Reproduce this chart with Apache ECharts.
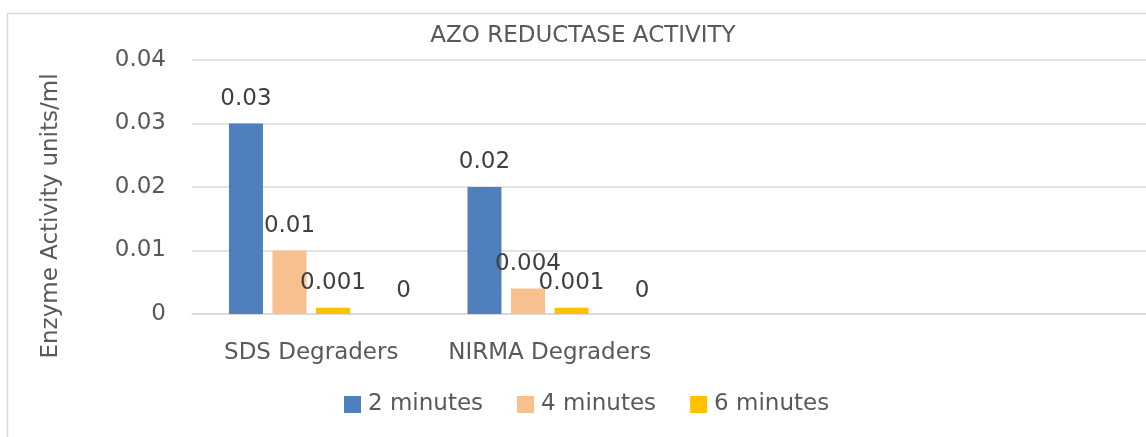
<!DOCTYPE html>
<html>
<head>
<meta charset="utf-8">
<script src="https://cdn.jsdelivr.net/npm/echarts@6/dist/echarts.min.js"></script>
<style>
html,body{margin:0;padding:0;background:#fff;}
#chart{width:1146px;height:437px;}
</style>
</head>
<body>
<div id="chart"></div>
<script>
const titleText = 'AZO REDUCTASE ACTIVITY';
const yAxisTitle = 'Enzyme Activity units/ml';
const categories = ['SDS Degraders', 'NIRMA Degraders', '', ''];
const seriesNames = ['2 minutes', '4 minutes', '6 minutes'];
const twoMinutes = [0.03, 0.02, null, null];
const fourMinutes = [0.01, 0.004, null, null];
const sixMinutes = [0.001, 0.001, null, null];
const extraSeries = [0, 0, null, null];
const yTicks = { min: 0, max: 0.04, interval: 0.01 };

const FONT = 'DejaVu Sans';
const TXT = '#595959';
const FS = 23;
const colors = ['#4F7FBC', '#F8BF8F', '#FFC000', '#A5A5A5'];

const chart = echarts.init(document.getElementById('chart'), null, { renderer: 'canvas' });

function barSeries(name, data, color, extraLabel) {
  return {
    name: name,
    type: 'bar',
    data: data,
    barWidth: 34,
    barGap: '28%',
    itemStyle: { color: color },
    label: Object.assign({
      show: true,
      position: 'top',
      distance: 13,
      fontFamily: FONT,
      fontSize: FS,
      color: '#404040',
      formatter: p => (p.value === null || p.value === undefined) ? '' : String(p.value)
    }, extraLabel || {})
  };
}

chart.setOption({
  backgroundColor: '#ffffff',
  animation: false,
  legend: {
    data: seriesNames,
    left: 344,
    top: 393,
    padding: 0,
    itemWidth: 17,
    itemHeight: 17,
    itemGap: 34,
    icon: 'rect',
    textStyle: { fontFamily: FONT, fontSize: FS, color: TXT, padding: [0, 0, 0, 2] }
  },
  grid: { left: 192, top: 60, right: -10, bottom: 123, containLabel: false },
  xAxis: {
    type: 'category',
    data: categories,
    axisTick: { show: false },
    axisLine: { lineStyle: { color: '#d9d9d9', width: 1.5 } },
    axisLabel: { fontFamily: FONT, fontSize: FS, color: TXT, margin: 28, interval: 0, hideOverlap: false }
  },
  yAxis: {
    type: 'value',
    min: yTicks.min,
    max: yTicks.max,
    interval: yTicks.interval,
    name: yAxisTitle,
    nameLocation: 'middle',
    nameGap: 129,
    nameTextStyle: { fontFamily: FONT, fontSize: FS, color: TXT, padding: [0, 58, 0, 0] },
    axisLine: { show: false },
    axisTick: { show: false },
    axisLabel: { fontFamily: FONT, fontSize: FS, color: TXT, margin: 26 },
    splitLine: { lineStyle: { color: '#d9d9d9', width: 1.5 } }
  },
  graphic: [{
    type: 'rect',
    shape: { x: 7.5, y: 13.5, width: 1300, height: 600 },
    style: { fill: 'none', stroke: '#d9d9d9', lineWidth: 1.5 },
    silent: true,
    z: -10
  }, {
    type: 'text',
    x: 583,
    y: 36,
    silent: true,
    style: {
      text: titleText,
      align: 'center',
      verticalAlign: 'middle',
      fontFamily: FONT,
      fontSize: FS,
      fill: TXT
    }
  }],
  series: [
    barSeries(seriesNames[0], twoMinutes, colors[0]),
    barSeries(seriesNames[1], fourMinutes, colors[1]),
    barSeries(seriesNames[2], sixMinutes, colors[2]),
    barSeries('Series4', extraSeries, colors[3], { offset: [27, 2] })
  ]
});
</script>
</body>
</html>
